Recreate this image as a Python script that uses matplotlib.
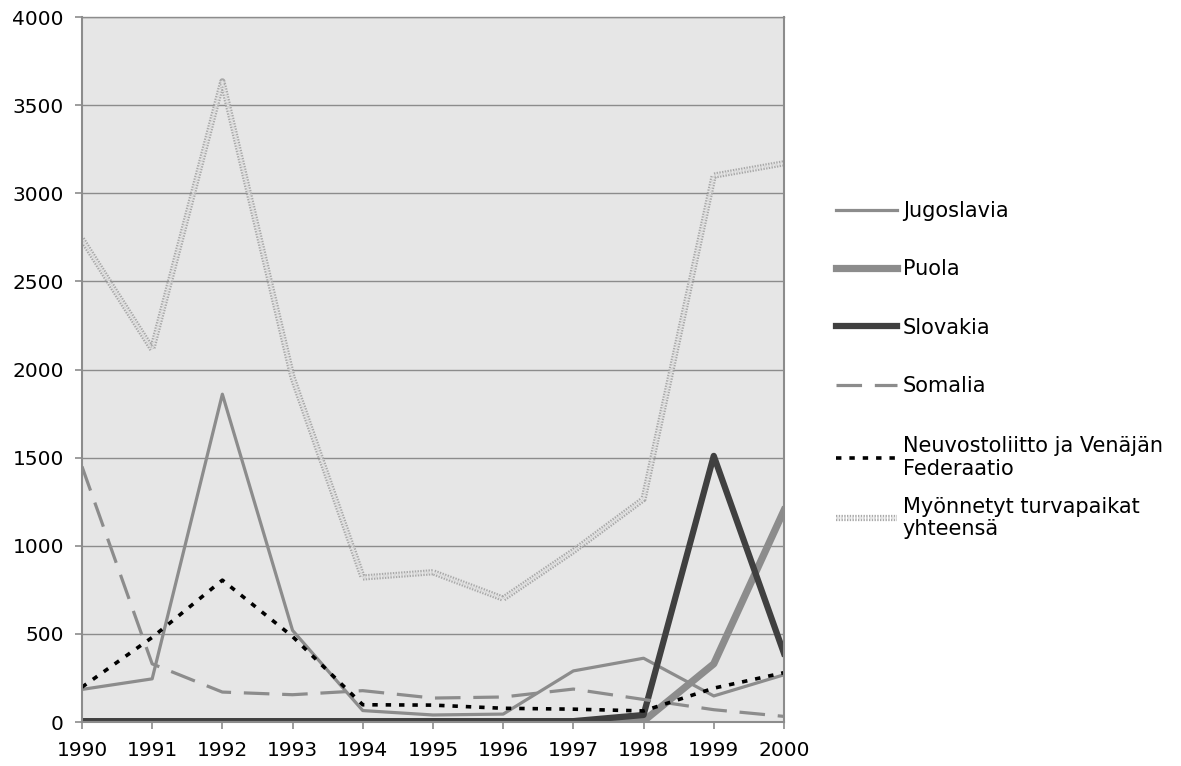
import matplotlib.pyplot as plt
from matplotlib import patheffects as pe

# vuodet ja turvapaikat maittain
years = list(range(1990, 2001))
jugoslavia = [185, 245, 1860, 520, 65, 40, 45, 290, 362, 148, 268]
puola = [0, 0, 0, 0, 0, 0, 0, 0, 5, 330, 1200]
slovakia = [5, 5, 5, 5, 5, 5, 5, 5, 40, 1510, 390]
somalia = [1450, 330, 170, 155, 178, 136, 142, 187, 128, 70, 32]
neuvostoliitto = [198, 480, 805, 485, 98, 96, 78, 73, 63, 192, 280]
yhteensa = [2740, 2115, 3635, 1955, 820, 850, 700, 970, 1265, 3100, 3170]

labels = ['Jugoslavia', 'Puola', 'Slovakia', 'Somalia',
          'Neuvostoliitto ja Venäjän\nFederaatio',
          'Myönnetyt turvapaikat\nyhteensä']

plt.rcParams['font.family'] = 'DejaVu Sans'
fig = plt.figure(figsize=(11.81, 7.66), dpi=100)
ax = fig.add_axes([0.0694, 0.0574, 0.5944, 0.9204])
ax.set_facecolor('#e6e6e6')

ax.plot(years, jugoslavia, color='#8c8c8c', lw=2.3, label=labels[0])
ax.plot(years, puola, color='#8c8c8c', lw=5.2, label=labels[1])
ax.plot(years, slovakia, color='#404040', lw=4.5, label=labels[2])
ax.plot(years, somalia, color='#8c8c8c', lw=2.3, dashes=(8, 4), label=labels[3])
ax.plot(years, neuvostoliitto, color='black', lw=2.6, dashes=(1.5, 2.2),
        label=labels[4])
ax.plot(years, yhteensa, color='#a8a8a8', lw=4.5, dashes=(0.22, 0.22),
        label=labels[5],
        path_effects=[pe.Normal(),
                      pe.Stroke(linewidth=1.6, foreground='#e6e6e6', alpha=0.9)])

ax.set_xlim(1990, 2000)
ax.set_ylim(0, 4000)
ax.set_xticks(years)
ax.set_yticks(range(0, 4001, 500))
ax.yaxis.grid(True, color='#8c8c8c', lw=1)
ax.set_axisbelow(True)
ax.tick_params(labelsize=14.5, color='#8c8c8c', length=5, width=1.2)
ax.tick_params(axis='x', pad=9)
ax.tick_params(axis='y', pad=8)
for s in ['left', 'bottom', 'right']:
    ax.spines[s].set_color('#8c8c8c')
    ax.spines[s].set_linewidth(1.5)
ax.spines['top'].set_color('#8c8c8c')
ax.spines['top'].set_linewidth(1)

# legend in two parts so the two-line entries keep Excel-like spacing
handles, labs = ax.get_legend_handles_labels()
opts = dict(frameon=False, fontsize=15, handlelength=2.9, handletextpad=0.3,
            borderaxespad=0, loc='center left')
leg1 = fig.legend(handles[:4], labs[:4], bbox_to_anchor=(0.701, 0.6103),
                  labelspacing=1.84, **opts)
leg2 = fig.legend(handles[4:], labs[4:], bbox_to_anchor=(0.701, 0.3633),
                  labelspacing=0.85, **opts)
for t in leg2.get_texts():
    t.set_linespacing(1.15)

fig.savefig('out.png', dpi=100)
